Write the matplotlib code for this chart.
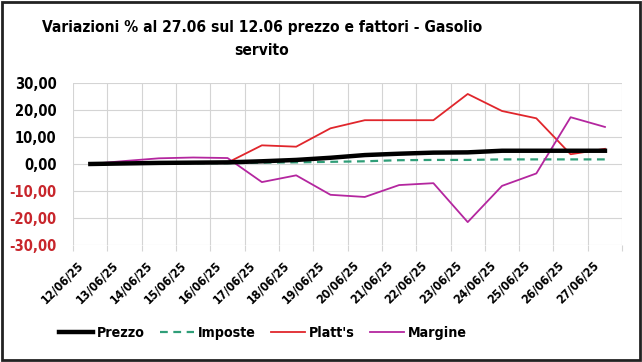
import numpy as np
import matplotlib.pyplot as plt
from matplotlib.patches import Rectangle

plt.rcParams['font.family'] = ['DejaVu Sans']
plt.rcParams['font.stretch'] = 'condensed'

dates = ['12/06/25', '13/06/25', '14/06/25', '15/06/25', '16/06/25', '17/06/25',
         '18/06/25', '19/06/25', '20/06/25', '21/06/25', '22/06/25', '23/06/25',
         '24/06/25', '25/06/25', '26/06/25', '27/06/25']
prezzo = [0.0, 0.2, 0.4, 0.5, 0.6, 1.0, 1.5, 2.3, 3.3, 3.8, 4.2, 4.3, 4.9, 4.9, 4.9, 4.9]
imposte = [0.0, 0.1, 0.2, 0.3, 0.3, 0.5, 0.6, 0.8, 1.0, 1.4, 1.5, 1.5, 1.7, 1.7, 1.7, 1.7]
platts = [0.0, 0.2, 0.3, 0.4, 0.5, 6.9, 6.4, 13.2, 16.2, 16.2, 16.2, 25.9, 19.6, 16.9, 3.6, 5.6]
margine = [0.0, 1.1, 2.1, 2.4, 2.2, -6.7, -4.2, -11.4, -12.2, -7.8, -7.1, -21.5, -8.1, -3.5, 17.3, 13.7]

x = np.arange(len(dates))
yt = np.arange(-30, 31, 10)

fig = plt.figure(figsize=(6.42, 3.62), dpi=100)
ax = fig.add_axes([0.114, 0.323, 0.855, 0.448])

ax.plot(x, prezzo, color='black', lw=3.2, label='Prezzo', zorder=4)
ax.plot(x, imposte, color='#2f9e78', lw=1.6, ls=(0, (3.5, 2.5)), label='Imposte', zorder=3)
ax.plot(x, platts, color='#e0262c', lw=1.3, label="Platt's", zorder=3)
ax.plot(x, margine, color='#b4269f', lw=1.3, label='Margine', zorder=3)

ax.set_xlim(-0.5, len(dates) - 0.5)
ax.set_ylim(-30, 30)
ax.set_yticks(yt)
ax.set_yticklabels([f'{v:.2f}'.replace('.', ',') for v in yt], fontsize=10.5, fontweight='bold')
for lab, v in zip(ax.get_yticklabels(), yt):
    if v < 0:
        lab.set_color('#c8262c')

# labels end a bit left of the category centre, like Excel does
ax.set_xticks(x - 0.38)
ax.set_xticklabels(dates, rotation=45, ha='right', rotation_mode='anchor',
                   fontsize=8.8, fontweight='bold')
ax.set_xticks(np.arange(-0.5, len(dates)), minor=True)
ax.tick_params(axis='x', which='major', length=0, pad=10)
ax.tick_params(axis='x', which='minor', length=4, color='#d4d4d4', width=0.8)
ax.tick_params(axis='y', length=0, pad=12)
ax.grid(True, which='minor', axis='x', color='#d4d4d4', lw=0.8)
ax.grid(True, which='major', axis='y', color='#d4d4d4', lw=0.8)
for s in ax.spines.values():
    s.set_visible(False)

fig.text(0.408, 0.892, 'Variazioni % al 27.06 sul 12.06 prezzo e fattori - Gasolio\nservito',
         ha='center', va='center', fontsize=11.2, fontweight='bold', linespacing=1.7)

fig.legend(loc='center', bbox_to_anchor=(0.41, 0.08), ncol=4, frameon=False,
           prop={'size': 10.2, 'weight': 'bold'}, handlelength=2.4, columnspacing=1.1,
           handletextpad=0.25)

fig.patches.append(Rectangle((0.003, 0.005), 0.994, 0.99, transform=fig.transFigure,
                             fill=False, edgecolor='#222222', lw=2))

fig.savefig('out.png', dpi=100)
